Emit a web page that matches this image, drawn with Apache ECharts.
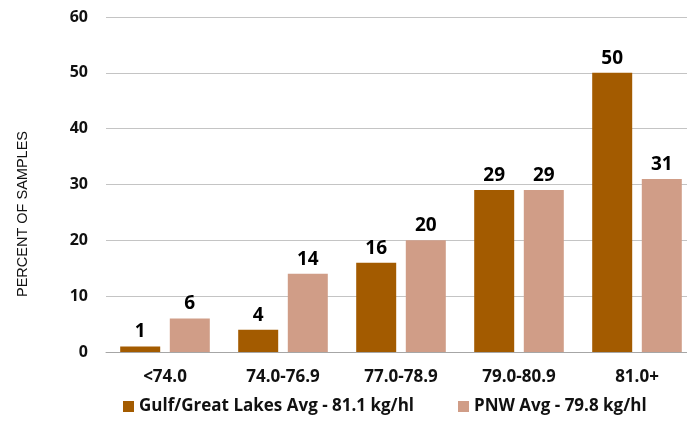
<!DOCTYPE html>
<html>
<head>
<meta charset="utf-8">
<script src="https://cdn.jsdelivr.net/npm/echarts@6/dist/echarts.min.js"></script>
<style>
  html, body { margin: 0; padding: 0; background: #fff; }
  #chart { width: 687px; height: 426px; }
</style>
</head>
<body>
<div id="chart"></div>
<script>
// Test weight ranges (kg/hl) and share of samples in each range
const categories = ['<74.0', '74.0-76.9', '77.0-78.9', '79.0-80.9', '81.0+'];
const gulfValues = [1, 4, 16, 29, 50];
const pnwValues = [6, 14, 20, 29, 31];
const seriesNames = ['Gulf/Great Lakes Avg - 81.1 kg/hl', 'PNW Avg - 79.8 kg/hl'];
const yTicks = { min: 0, max: 60, interval: 10 };

const font = '"Open Sans", Lato, sans-serif';
const chart = echarts.init(document.getElementById('chart'), null, { renderer: 'canvas' });

const labelStyle = {
  show: true,
  position: 'top',
  distance: 5,
  fontFamily: font,
  fontWeight: 'bold',
  fontSize: 19,
  color: '#000'
};

chart.setOption({
  animation: false,
  // plot area runs past the right edge of the canvas
  grid: { left: 106, width: 590, top: 17, bottom: 74, outerBoundsMode: 'none', containLabel: false },
  graphic: [{
    type: 'text',
    left: 15,
    top: 131,
    rotation: Math.PI / 2,
    style: {
      text: 'PERCENT OF SAMPLES',
      font: '14.5px "Liberation Sans", Arial, sans-serif',
      fill: '#111'
    }
  }],
  legend: {
    bottom: 6,
    left: 118,
    itemWidth: 11,
    itemHeight: 11,
    itemGap: 44,
    icon: 'rect',
    textStyle: { fontFamily: font, fontWeight: 'bold', fontSize: 17, color: '#111' },
    data: seriesNames
  },
  xAxis: {
    type: 'category',
    data: categories,
    axisTick: { show: false },
    axisLine: { lineStyle: { color: '#a6a6a6', width: 1 } },
    axisLabel: {
      margin: 17,
      fontFamily: font,
      fontWeight: 'bold',
      fontSize: 17,
      color: '#111'
    }
  },
  yAxis: {
    type: 'value',
    min: yTicks.min,
    max: yTicks.max,
    interval: yTicks.interval,
    axisLine: { show: false },
    axisTick: { show: false },
    splitLine: { lineStyle: { color: '#c4c4c4', width: 1 } },
    axisLabel: {
      margin: 18,
      fontFamily: font,
      fontWeight: 'bold',
      fontSize: 16,
      color: '#111'
    }
  },
  series: [
    {
      name: seriesNames[0],
      type: 'bar',
      data: gulfValues,
      barWidth: 40,
      barGap: '24%',
      itemStyle: { color: '#a35b00' },
      label: labelStyle
    },
    {
      name: seriesNames[1],
      type: 'bar',
      data: pnwValues,
      barWidth: 40,
      itemStyle: { color: '#d09d87' },
      label: labelStyle
    }
  ]
});
</script>
</body>
</html>
